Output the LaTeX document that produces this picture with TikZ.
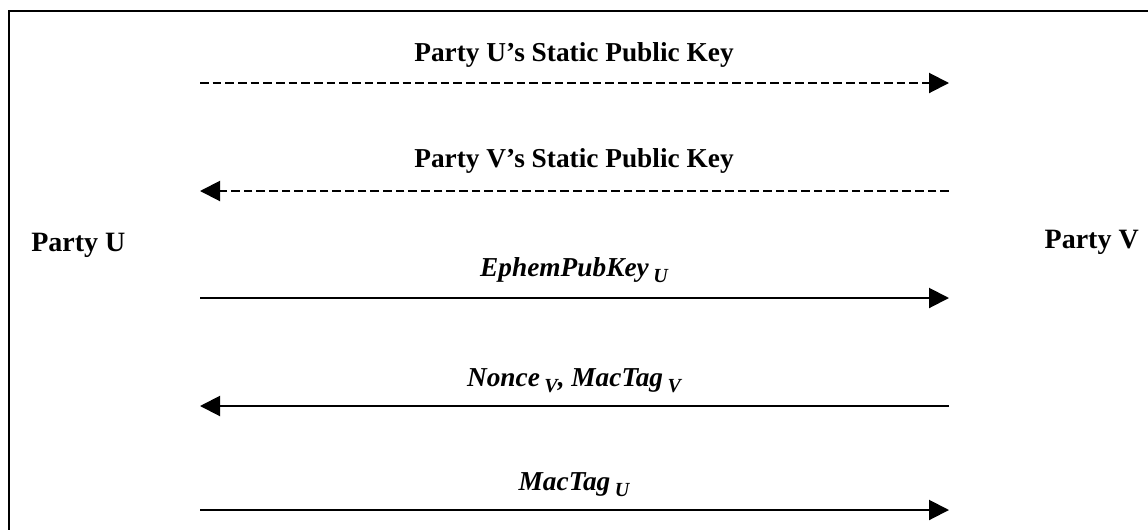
\documentclass[tikz,border=0pt]{standalone}
\usepackage{fontspec}
\setmainfont{Liberation Serif}
\usetikzlibrary{arrows.meta}
\tikzset{
  msg/.style={line width=1.5pt,-{Triangle[length=15pt,width=15pt]}},
  msgdash/.style={msg,dash pattern=on 6.5pt off 3pt},
  lbl/.style={font=\fontsize{20.5}{24}\selectfont\bfseries,inner sep=0pt,anchor=base},
  party/.style={font=\fontsize{21}{24}\selectfont\bfseries,inner sep=0pt,anchor=base}
}
\newcommand{\lowidx}[1]{\,\raisebox{-0.55ex}{\fontsize{15}{15}\selectfont #1}}
\begin{document}
\begin{tikzpicture}[x=0.75pt,y=0.75pt,yscale=-1,xscale=1]
    \useasboundingbox (0,0) rectangle (1148,529);
    %frame
    \draw [line width=1.5pt] (9,11) rectangle (1160,545);
    
    %parties
    \node [party,anchor=base west] (partyU) at (31,251) {Party U};
    \node [party,anchor=base east] (partyV) at (1139,248) {Party V};
    
    %lane ends
    \coordinate (u1) at (200,83);  \coordinate (v1) at (949,83);
    \coordinate (u2) at (200,191); \coordinate (v2) at (949,191);
    \coordinate (u3) at (200,298); \coordinate (v3) at (949,298);
    \coordinate (u4) at (200,406); \coordinate (v4) at (949,406);
    \coordinate (u5) at (200,510); \coordinate (v5) at (949,510);
    
    %messages
    \draw [msgdash] (u1) -- (v1);
    \node [lbl] (staticU) at (574,61) {Party U’s Static Public Key};
    
    \draw [msgdash] (v2) -- (u2);
    \node [lbl] (staticV) at (574,167) {Party V’s Static Public Key};
    
    \draw [msg] (u3) -- (v3);
    \node [lbl] (ephemU) at (574,276) {\itshape EphemPubKey\lowidx{U}};
    
    \draw [msg] (v4) -- (u4);
    \node [lbl] (nonceV) at (574,386) {\itshape Nonce\lowidx{V}, MacTag\lowidx{V}};
    
    \draw [msg] (u5) -- (v5);
    \node [lbl] (tagU) at (574,490) {\itshape MacTag\lowidx{U}};
\end{tikzpicture}
\end{document}
